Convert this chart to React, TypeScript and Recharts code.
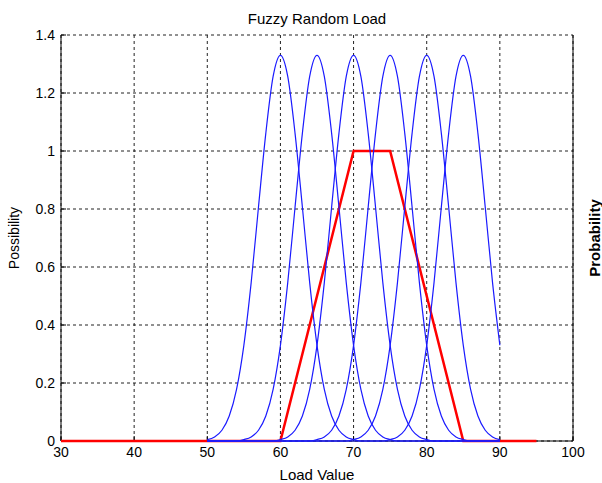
import React from "react"
import {
  LineChart,
  Line,
  XAxis,
  YAxis,
  CartesianGrid,
} from "recharts"

// load values (x) sampled for the random density curves
const loadX = [
  50, 51, 52, 53, 54, 55, 56, 57, 58, 59, 60, 61, 62, 63, 64, 65, 66, 67, 68, 69, 70,
  71, 72, 73, 74, 75, 76, 77, 78, 79, 80, 81, 82, 83, 84, 85, 86, 87, 88, 89, 90,
]

// probability densities (x10 scale, peak ~1.33)
const curve60 = [
  0.005, 0.014, 0.037, 0.086, 0.178, 0.33, 0.546, 0.807, 1.061, 1.257, 1.33, 1.257, 1.061, 0.807, 0.546, 0.33, 0.178, 0.086, 0.037, 0.014, 0.005,
  0, 0, 0, 0, 0, 0, 0, 0, 0, 0, 0, 0, 0, 0, 0, 0, 0, 0, 0, 0,
]
const curve65 = [
  0, 0, 0, 0, 0,
  0.005, 0.014, 0.037, 0.086, 0.178, 0.33, 0.546, 0.807, 1.061, 1.257, 1.33, 1.257, 1.061, 0.807, 0.546, 0.33, 0.178, 0.086, 0.037, 0.014, 0.005,
  0, 0, 0, 0, 0, 0, 0, 0, 0, 0, 0, 0, 0, 0, 0,
]
const curve70 = [
  0, 0, 0, 0, 0, 0, 0, 0, 0, 0,
  0.005, 0.014, 0.037, 0.086, 0.178, 0.33, 0.546, 0.807, 1.061, 1.257, 1.33, 1.257, 1.061, 0.807, 0.546, 0.33, 0.178, 0.086, 0.037, 0.014, 0.005,
  0, 0, 0, 0, 0, 0, 0, 0, 0, 0,
]
const curve75 = [
  0, 0, 0, 0, 0, 0, 0, 0, 0, 0, 0, 0, 0, 0, 0,
  0.005, 0.014, 0.037, 0.086, 0.178, 0.33, 0.546, 0.807, 1.061, 1.257, 1.33, 1.257, 1.061, 0.807, 0.546, 0.33, 0.178, 0.086, 0.037, 0.014, 0.005,
  0, 0, 0, 0, 0,
]
const curve80 = [
  0, 0, 0, 0, 0, 0, 0, 0, 0, 0, 0, 0, 0, 0, 0, 0, 0, 0, 0, 0,
  0.005, 0.014, 0.037, 0.086, 0.178, 0.33, 0.546, 0.807, 1.061, 1.257, 1.33, 1.257, 1.061, 0.807, 0.546, 0.33, 0.178, 0.086, 0.037, 0.014, 0.005,
]
const curve85 = [
  0, 0, 0, 0, 0, 0, 0, 0, 0, 0, 0, 0, 0, 0, 0, 0, 0, 0, 0, 0, 0, 0, 0, 0, 0,
  0.005, 0.014, 0.037, 0.086, 0.178, 0.33, 0.546, 0.807, 1.061, 1.257, 1.33, 1.257, 1.061, 0.807, 0.546, 0.33,
]

// trapezoidal fuzzy possibility
const fuzzyX = [30, 60, 70, 75, 85, 95]
const fuzzyY = [0, 0, 1, 1, 0, 0]

const xTicks = [30, 40, 50, 60, 70, 80, 90, 100]
const yTicks = [0, 0.2, 0.4, 0.6, 0.8, 1, 1.2, 1.4]

const curveKeys = ["c60", "c65", "c70", "c75", "c80", "c85"]

const curveRows = loadX.map((x, i) => ({
  x,
  c60: curve60[i],
  c65: curve65[i],
  c70: curve70[i],
  c75: curve75[i],
  c80: curve80[i],
  c85: curve85[i],
}))
const fuzzyRows = fuzzyX.map((x, i) => ({ x, y: fuzzyY[i] }))

const font = "'Liberation Sans', Arial, sans-serif"
const tickStyle = { fill: "#000", fontSize: 14, fontFamily: font }

export default function App() {
  return (
    <div style={{ position: "absolute", left: 0, top: 0, width: 602, height: 483, background: "#fff" }}>
      <div
        style={{
          position: "absolute",
          left: 61,
          width: 512,
          top: 10,
          textAlign: "center",
          fontFamily: font,
          fontSize: 15,
          lineHeight: "17px",
          color: "#000",
        }}
      >
        Fuzzy Random Load
      </div>
      <LineChart
        width={602}
        height={483}
        data={curveRows}
        margin={{ top: 35, right: 0, bottom: 0, left: 0 }}
      >
        <CartesianGrid stroke="#222" strokeDasharray="3 3" />
        <XAxis
          dataKey="x"
          type="number"
          domain={[30, 100]}
          ticks={xTicks}
          height={42}
          stroke="#000"
          tickSize={-5}
          tickMargin={11}
          tick={tickStyle}
          label={{
            value: "Load Value",
            position: "insideBottom",
            offset: 3,
            style: { fill: "#000", fontSize: 15, fontFamily: font },
          }}
        />
        <XAxis
          xAxisId="top"
          orientation="top"
          type="number"
          domain={[30, 100]}
          ticks={xTicks}
          height={0}
          stroke="#000"
          tickSize={-5}
          tickFormatter={() => ""}
        />
        <YAxis
          type="number"
          domain={[0, 1.4]}
          ticks={yTicks}
          width={61}
          stroke="#000"
          tickSize={-5}
          tickMargin={11}
          tick={tickStyle}
          label={{
            value: "Possibility",
            angle: -90,
            position: "insideLeft",
            offset: 14,
            style: { fill: "#000", fontSize: 14, fontFamily: font, textAnchor: "middle" },
          }}
        />
        <YAxis
          yAxisId="right"
          orientation="right"
          type="number"
          domain={[0, 1.4]}
          ticks={yTicks}
          width={29}
          stroke="#000"
          tickSize={-5}
          tickFormatter={() => ""}
          label={{
            value: "Probability",
            angle: -90,
            position: "insideRight",
            offset: 7,
            style: { fill: "#000", fontSize: 15, fontWeight: "bold", fontFamily: font, textAnchor: "middle" },
          }}
        />
        <Line
          data={fuzzyRows}
          dataKey="y"
          type="linear"
          stroke="#ff0000"
          strokeWidth={2.5}
          dot={false}
          isAnimationActive={false}
          zIndex={700}
        />
        {curveKeys.map((k) => (
          <Line
            key={k}
            dataKey={k}
            type="monotone"
            stroke="#1a1aff"
            strokeWidth={1.2}
            dot={false}
            isAnimationActive={false}
            zIndex={710}
          />
        ))}
      </LineChart>
    </div>
  )
}
